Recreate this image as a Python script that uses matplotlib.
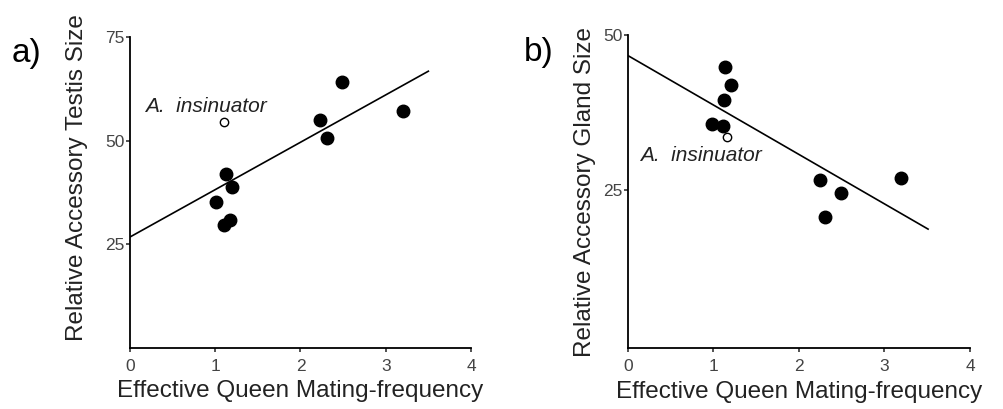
import numpy as np
import matplotlib.pyplot as plt

plt.rcParams['font.family'] = ['Liberation Sans', 'DejaVu Sans']

# Panel a: accessory testis size vs effective queen mating frequency
a_x = [1.01, 1.10, 1.17, 1.13, 1.20, 2.23, 2.31, 2.49, 3.20]
a_y = [35.2, 29.8, 30.8, 42.1, 38.9, 55.0, 50.6, 64.1, 57.3]
a_open_x = [1.10]
a_open_y = [54.5]
a_line_x = [0, 3.50]
a_line_y = [26.8, 66.8]

# Panel b: accessory gland size vs effective queen mating frequency
b_x = [1.14, 1.21, 1.12, 0.98, 1.11, 2.24, 2.49, 2.31, 3.19]
b_y = [44.9, 41.9, 39.6, 35.6, 35.3, 26.6, 24.6, 20.7, 26.9]
b_open_x = [1.16]
b_open_y = [33.6]
b_line_x = [0, 3.51]
b_line_y = [46.7, 18.7]

xticks = [0, 1, 2, 3, 4]
fig = plt.figure(figsize=(10.04, 4.09), dpi=100)
axa = fig.add_axes([0.1295, 0.149, 0.3396, 0.760])
axb = fig.add_axes([0.6255, 0.149, 0.3406, 0.765])

def style(ax, ymax, yticks, ylabel):
    for s in ['top', 'right']:
        ax.spines[s].set_visible(False)
    for s in ['left', 'bottom']:
        ax.spines[s].set_linewidth(1.3)
    ax.set_xlim(0, 4)
    ax.set_ylim(0, ymax)
    ax.set_xticks(xticks)
    ax.set_yticks(yticks)
    ax.tick_params(direction='out', length=3, width=1.1, colors='#222222',
                   labelsize=12.5, labelcolor='#444444')
    ax.tick_params(axis='x', pad=5)
    ax.tick_params(axis='y', pad=1)
    ax.set_xlabel('Effective Queen Mating-frequency', fontsize=17.5, color='#222222')
    ax.set_ylabel(ylabel, fontsize=17.5, color='#222222')

axa.plot(a_line_x, a_line_y, color='black', lw=1.2)
axa.plot(a_x, a_y, 'o', color='black', ms=9)
axa.plot(a_open_x, a_open_y, 'o', mfc='white', mec='black', ms=6, mew=1)
axa.text(0.18, 58.2, 'A.  insinuator', style='italic', fontsize=15, va='center', color='#222222')
style(axa, 75, [25, 50, 75], 'Relative Accessory Testis Size')
axa.yaxis.set_label_coords(-0.122, 0.55)
axa.xaxis.set_label_coords(0.5, -0.104)
fig.text(0.012, 0.87, 'a)', fontsize=24, va='center')

axb.plot(b_line_x, b_line_y, color='black', lw=1.2)
axb.plot(b_x, b_y, 'o', color='black', ms=9)
axb.plot(b_open_x, b_open_y, 'o', mfc='white', mec='black', ms=6, mew=1)
axb.text(0.14, 30.6, 'A.  insinuator', style='italic', fontsize=15, va='center', color='#222222')
style(axb, 50, [25, 50], 'Relative Accessory Gland Size')
axb.set_ylim(-0.5, 50)
axb.yaxis.set_label_coords(-0.094, 0.5)
axb.xaxis.set_label_coords(0.5, -0.104)
fig.text(0.522, 0.872, 'b)', fontsize=24, va='center')

fig.savefig('out.png', dpi=100)
